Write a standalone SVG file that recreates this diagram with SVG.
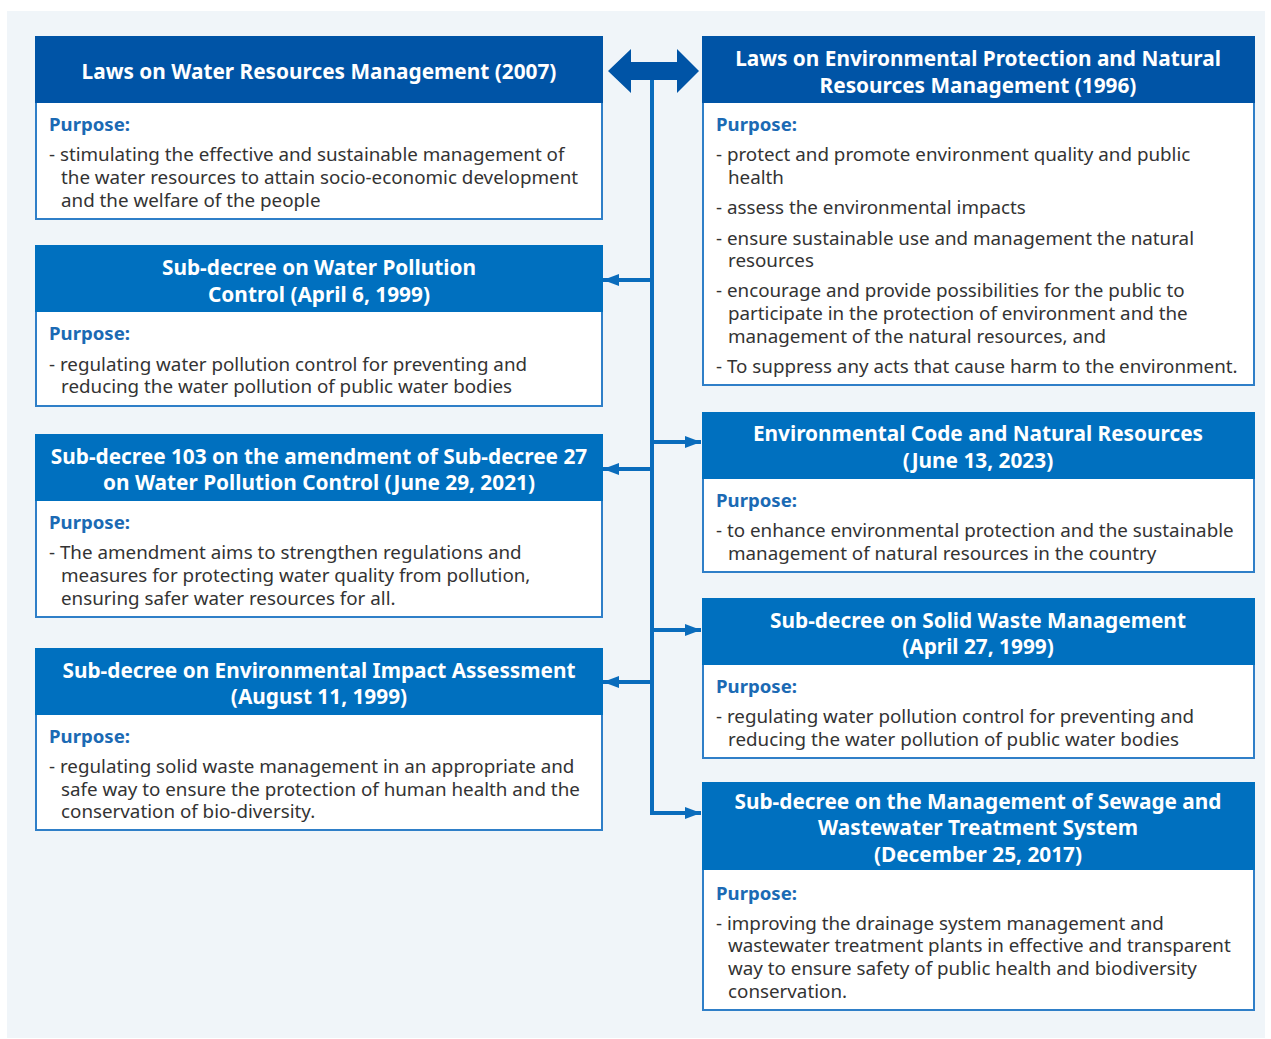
<svg xmlns="http://www.w3.org/2000/svg" width="1271" height="1039" viewBox="0 0 1271 1039">
  <defs>
    <style>
      .panel { fill: #f0f5f9; }
      .hdr-dark { fill: #0054a6; }
      .hdr { fill: #0070bf; }
      .body { fill: #ffffff; stroke: #2f7fc8; stroke-width: 2; }
      .title { font-family: "Noto Sans", "Liberation Sans", sans-serif; font-weight: 700; font-size: 20.8px; fill: #ffffff; text-anchor: middle; }
      .purpose { font-family: "Noto Sans", "Liberation Sans", sans-serif; font-weight: 700; font-size: 18.6px; fill: #1b6ab4; }
      .txt { font-family: "Noto Sans", "Liberation Sans", sans-serif; font-size: 18.8px; fill: #333333; }
      .link { fill: none; stroke: #0a6cbc; stroke-width: 4; }
    </style>
    <marker id="arrow" viewBox="0 0 16 12" refX="16" refY="6" markerWidth="16" markerHeight="12" markerUnits="userSpaceOnUse" orient="auto">
      <path d="M0 0 L16 6 L0 12 Z" fill="#0a6cbc"/>
    </marker>
  </defs>

  <rect class="panel" x="7" y="11" width="1258" height="1027"/>

  <!-- connectors -->
  <g id="connectors">
    <polygon points="608,71 631,49 631,62 677,62 677,49 699,71 677,93 677,80 631,80 631,93" fill="#0054a6"/>
    <path class="link" d="M652 80 V813 H701" marker-end="url(#arrow)"/>
    <path class="link" d="M652 280 H603" marker-end="url(#arrow)"/>
    <path class="link" d="M652 469 H603" marker-end="url(#arrow)"/>
    <path class="link" d="M652 682 H603" marker-end="url(#arrow)"/>
    <path class="link" d="M652 442 H701" marker-end="url(#arrow)"/>
    <path class="link" d="M652 630 H701" marker-end="url(#arrow)"/>
  </g>

  <!-- left column -->
  <g id="law-water-2007">
    <rect class="body" x="36" y="102" width="566" height="117"/>
    <rect class="hdr-dark" x="35" y="36" width="568" height="67"/>
    <text class="title" x="319" y="79">Laws on Water Resources Management (2007)</text>
    <text class="purpose" x="49" y="131">Purpose:</text>
    <text class="txt" x="49" y="161">- stimulating the effective and sustainable management of</text>
    <text class="txt" x="61" y="184">the water resources to attain socio-economic development</text>
    <text class="txt" x="61" y="207">and the welfare of the people</text>
  </g>

  <g id="subdecree-water-pollution-1999">
    <rect class="body" x="36" y="311" width="566" height="95"/>
    <rect class="hdr" x="35" y="245" width="568" height="67"/>
    <text class="title" x="319" y="275">Sub-decree on Water Pollution</text>
    <text class="title" x="319" y="302">Control (April 6, 1999)</text>
    <text class="purpose" x="49" y="340">Purpose:</text>
    <text class="txt" x="49" y="371">- regulating water pollution control for preventing and</text>
    <text class="txt" x="61" y="393">reducing the water pollution of public water bodies</text>
  </g>

  <g id="subdecree-103-2021">
    <rect class="body" x="36" y="500" width="566" height="117"/>
    <rect class="hdr" x="35" y="434" width="568" height="67"/>
    <text class="title" x="319" y="464">Sub-decree 103 on the amendment of Sub-decree 27</text>
    <text class="title" x="319" y="490">on Water Pollution Control (June 29, 2021)</text>
    <text class="purpose" x="49" y="529">Purpose:</text>
    <text class="txt" x="49" y="559">- The amendment aims to strengthen regulations and</text>
    <text class="txt" x="61" y="582">measures for protecting water quality from pollution,</text>
    <text class="txt" x="61" y="605">ensuring safer water resources for all.</text>
  </g>

  <g id="subdecree-eia-1999">
    <rect class="body" x="36" y="714" width="566" height="116"/>
    <rect class="hdr" x="35" y="648" width="568" height="67"/>
    <text class="title" x="319" y="678">Sub-decree on Environmental Impact Assessment</text>
    <text class="title" x="319" y="704">(August 11, 1999)</text>
    <text class="purpose" x="49" y="743">Purpose:</text>
    <text class="txt" x="49" y="773">- regulating solid waste management in an appropriate and</text>
    <text class="txt" x="61" y="796">safe way to ensure the protection of human health and the</text>
    <text class="txt" x="61" y="818">conservation of bio-diversity.</text>
  </g>

  <!-- right column -->
  <g id="law-environment-1996">
    <rect class="body" x="703" y="102" width="551" height="283"/>
    <rect class="hdr-dark" x="702" y="36" width="553" height="67"/>
    <text class="title" x="978" y="66">Laws on Environmental Protection and Natural</text>
    <text class="title" x="978" y="93">Resources Management (1996)</text>
    <text class="purpose" x="716" y="131">Purpose:</text>
    <text class="txt" x="716" y="161">- protect and promote environment quality and public</text>
    <text class="txt" x="728" y="184">health</text>
    <text class="txt" x="716" y="214">- assess the environmental impacts</text>
    <text class="txt" x="716" y="245">- ensure sustainable use and management the natural</text>
    <text class="txt" x="728" y="267">resources</text>
    <text class="txt" x="716" y="297">- encourage and provide possibilities for the public to</text>
    <text class="txt" x="728" y="320">participate in the protection of environment and the</text>
    <text class="txt" x="728" y="343">management of the natural resources, and</text>
    <text class="txt" x="716" y="373">- To suppress any acts that cause harm to the environment.</text>
  </g>

  <g id="environmental-code-2023">
    <rect class="body" x="703" y="478" width="551" height="94"/>
    <rect class="hdr" x="702" y="412" width="553" height="67"/>
    <text class="title" x="978" y="441">Environmental Code and Natural Resources</text>
    <text class="title" x="978" y="468">(June 13, 2023)</text>
    <text class="purpose" x="716" y="507">Purpose:</text>
    <text class="txt" x="716" y="537">- to enhance environmental protection and the sustainable</text>
    <text class="txt" x="728" y="560">management of natural resources in the country</text>
  </g>

  <g id="subdecree-solid-waste-1999">
    <rect class="body" x="703" y="664" width="551" height="94"/>
    <rect class="hdr" x="702" y="598" width="553" height="67"/>
    <text class="title" x="978" y="628">Sub-decree on Solid Waste Management</text>
    <text class="title" x="978" y="654">(April 27, 1999)</text>
    <text class="purpose" x="716" y="693">Purpose:</text>
    <text class="txt" x="716" y="723">- regulating water pollution control for preventing and</text>
    <text class="txt" x="728" y="746">reducing the water pollution of public water bodies</text>
  </g>

  <g id="subdecree-sewage-2017">
    <rect class="body" x="703" y="869" width="551" height="141"/>
    <rect class="hdr" x="702" y="782" width="553" height="88"/>
    <text class="title" x="978" y="809">Sub-decree on the Management of Sewage and</text>
    <text class="title" x="978" y="835">Wastewater Treatment System</text>
    <text class="title" x="978" y="862">(December 25, 2017)</text>
    <text class="purpose" x="716" y="900">Purpose:</text>
    <text class="txt" x="716" y="930">- improving the drainage system management and</text>
    <text class="txt" x="728" y="952">wastewater treatment plants in effective and transparent</text>
    <text class="txt" x="728" y="975">way to ensure safety of public health and biodiversity</text>
    <text class="txt" x="728" y="998">conservation.</text>
  </g>
</svg>
